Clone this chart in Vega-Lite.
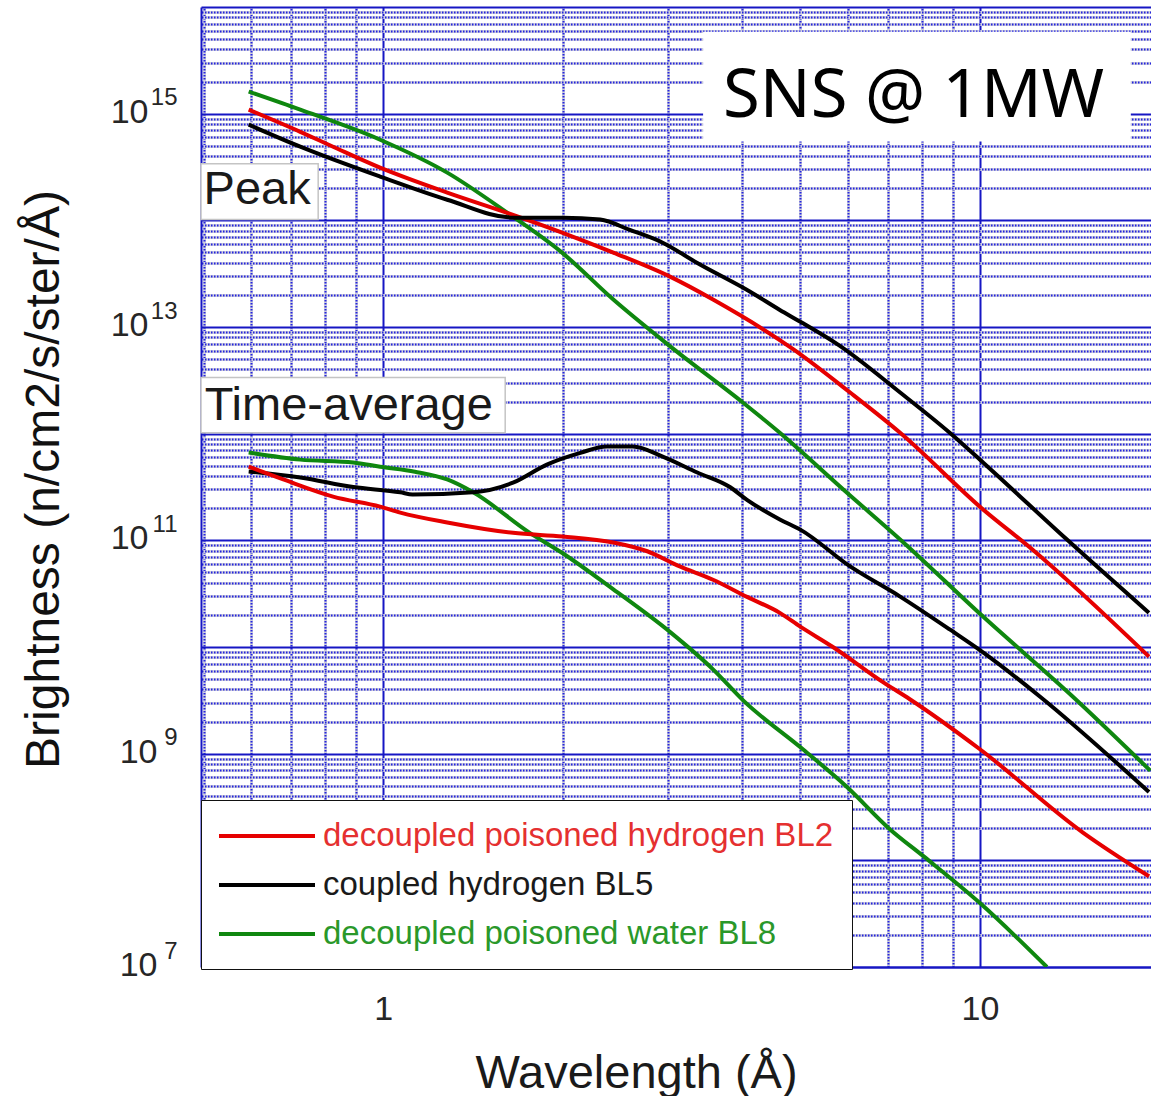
{
  "$schema": "https://vega.github.io/schema/vega-lite/v6.json",
  "width": 950,
  "height": 960,
  "autosize": {"type": "none"},
  "padding": {"left": 201, "top": 7, "right": 0, "bottom": 129},
  "config": {"view": {"stroke": null}, "font": "Liberation Sans"},
  "datasets": {
    "curves": [
      {"beam": "decoupled poisoned water BL8", "mode": "peak", "wl": 0.595, "b": 1.61e15},
      {"beam": "decoupled poisoned water BL8", "mode": "peak", "wl": 0.726, "b": 1.09e15},
      {"beam": "decoupled poisoned water BL8", "mode": "peak", "wl": 0.988, "b": 5.7e14},
      {"beam": "decoupled poisoned water BL8", "mode": "peak", "wl": 1.28, "b": 2.8e14},
      {"beam": "decoupled poisoned water BL8", "mode": "peak", "wl": 1.613, "b": 1.18e14},
      {"beam": "decoupled poisoned water BL8", "mode": "peak", "wl": 1.994, "b": 4.98e13},
      {"beam": "decoupled poisoned water BL8", "mode": "peak", "wl": 2.43, "b": 1.81e13},
      {"beam": "decoupled poisoned water BL8", "mode": "peak", "wl": 3.03, "b": 6.55e12},
      {"beam": "decoupled poisoned water BL8", "mode": "peak", "wl": 4.01, "b": 1.95e12},
      {"beam": "decoupled poisoned water BL8", "mode": "peak", "wl": 4.62, "b": 1.02e12},
      {"beam": "decoupled poisoned water BL8", "mode": "peak", "wl": 5.98, "b": 2.81e11},
      {"beam": "decoupled poisoned water BL8", "mode": "peak", "wl": 7.35, "b": 1.02e11},
      {"beam": "decoupled poisoned water BL8", "mode": "peak", "wl": 10.12, "b": 1.93e10},
      {"beam": "decoupled poisoned water BL8", "mode": "peak", "wl": 14.3, "b": 3.44e9},
      {"beam": "decoupled poisoned water BL8", "mode": "peak", "wl": 19.3, "b": 6.92e8},

      {"beam": "decoupled poisoned hydrogen BL2", "mode": "peak", "wl": 0.595, "b": 1.09e15},
      {"beam": "decoupled poisoned hydrogen BL2", "mode": "peak", "wl": 0.726, "b": 6.76e14},
      {"beam": "decoupled poisoned hydrogen BL2", "mode": "peak", "wl": 0.824, "b": 4.9e14},
      {"beam": "decoupled poisoned hydrogen BL2", "mode": "peak", "wl": 0.988, "b": 3.12e14},
      {"beam": "decoupled poisoned hydrogen BL2", "mode": "peak", "wl": 1.28, "b": 1.82e14},
      {"beam": "decoupled poisoned hydrogen BL2", "mode": "peak", "wl": 1.613, "b": 1.175e14},
      {"beam": "decoupled poisoned hydrogen BL2", "mode": "peak", "wl": 1.994, "b": 7.67e13},
      {"beam": "decoupled poisoned hydrogen BL2", "mode": "peak", "wl": 2.43, "b": 4.98e13},
      {"beam": "decoupled poisoned hydrogen BL2", "mode": "peak", "wl": 3.03, "b": 2.95e13},
      {"beam": "decoupled poisoned hydrogen BL2", "mode": "peak", "wl": 3.57, "b": 1.81e13},
      {"beam": "decoupled poisoned hydrogen BL2", "mode": "peak", "wl": 4.87, "b": 6.17e12},
      {"beam": "decoupled poisoned hydrogen BL2", "mode": "peak", "wl": 6.06, "b": 2.43e12},
      {"beam": "decoupled poisoned hydrogen BL2", "mode": "peak", "wl": 7.35, "b": 1.02e12},
      {"beam": "decoupled poisoned hydrogen BL2", "mode": "peak", "wl": 10.12, "b": 1.95e11},
      {"beam": "decoupled poisoned hydrogen BL2", "mode": "peak", "wl": 12.27, "b": 8.13e10},
      {"beam": "decoupled poisoned hydrogen BL2", "mode": "peak", "wl": 19.2, "b": 8.13e9},

      {"beam": "coupled hydrogen BL5", "mode": "peak", "wl": 0.595, "b": 7.89e14},
      {"beam": "coupled hydrogen BL5", "mode": "peak", "wl": 0.726, "b": 4.9e14},
      {"beam": "coupled hydrogen BL5", "mode": "peak", "wl": 0.988, "b": 2.57e14},
      {"beam": "coupled hydrogen BL5", "mode": "peak", "wl": 1.28, "b": 1.56e14},
      {"beam": "coupled hydrogen BL5", "mode": "peak", "wl": 1.65, "b": 1.06e14},
      {"beam": "coupled hydrogen BL5", "mode": "peak", "wl": 2.0, "b": 1.06e14},
      {"beam": "coupled hydrogen BL5", "mode": "peak", "wl": 2.31, "b": 1.016e14},
      {"beam": "coupled hydrogen BL5", "mode": "peak", "wl": 2.59, "b": 8.13e13},
      {"beam": "coupled hydrogen BL5", "mode": "peak", "wl": 2.94, "b": 6.17e13},
      {"beam": "coupled hydrogen BL5", "mode": "peak", "wl": 3.36, "b": 3.98e13},
      {"beam": "coupled hydrogen BL5", "mode": "peak", "wl": 4.12, "b": 2.14e13},
      {"beam": "coupled hydrogen BL5", "mode": "peak", "wl": 4.62, "b": 1.445e13},
      {"beam": "coupled hydrogen BL5", "mode": "peak", "wl": 5.0, "b": 1.12e13},
      {"beam": "coupled hydrogen BL5", "mode": "peak", "wl": 5.8, "b": 6.76e12},
      {"beam": "coupled hydrogen BL5", "mode": "peak", "wl": 7.35, "b": 2.43e12},
      {"beam": "coupled hydrogen BL5", "mode": "peak", "wl": 8.9, "b": 1.02e12},
      {"beam": "coupled hydrogen BL5", "mode": "peak", "wl": 10.12, "b": 5.37e11},
      {"beam": "coupled hydrogen BL5", "mode": "peak", "wl": 13.99, "b": 1.016e11},
      {"beam": "coupled hydrogen BL5", "mode": "peak", "wl": 19.2, "b": 2.09e10},

      {"beam": "decoupled poisoned water BL8", "mode": "avg", "wl": 0.595, "b": 6.65e11},
      {"beam": "decoupled poisoned water BL8", "mode": "avg", "wl": 0.726, "b": 5.71e11},
      {"beam": "decoupled poisoned water BL8", "mode": "avg", "wl": 0.891, "b": 5.37e11},
      {"beam": "decoupled poisoned water BL8", "mode": "avg", "wl": 0.988, "b": 4.9e11},
      {"beam": "decoupled poisoned water BL8", "mode": "avg", "wl": 1.13, "b": 4.4e11},
      {"beam": "decoupled poisoned water BL8", "mode": "avg", "wl": 1.28, "b": 3.72e11},
      {"beam": "decoupled poisoned water BL8", "mode": "avg", "wl": 1.415, "b": 2.82e11},
      {"beam": "decoupled poisoned water BL8", "mode": "avg", "wl": 1.76, "b": 1.175e11},
      {"beam": "decoupled poisoned water BL8", "mode": "avg", "wl": 1.99, "b": 7.69e10},
      {"beam": "decoupled poisoned water BL8", "mode": "avg", "wl": 2.43, "b": 3.47e10},
      {"beam": "decoupled poisoned water BL8", "mode": "avg", "wl": 3.03, "b": 1.37e10},
      {"beam": "decoupled poisoned water BL8", "mode": "avg", "wl": 3.57, "b": 6.17e9},
      {"beam": "decoupled poisoned water BL8", "mode": "avg", "wl": 4.01, "b": 3.16e9},
      {"beam": "decoupled poisoned water BL8", "mode": "avg", "wl": 5.05, "b": 1.1e9},
      {"beam": "decoupled poisoned water BL8", "mode": "avg", "wl": 5.98, "b": 4.9e8},
      {"beam": "decoupled poisoned water BL8", "mode": "avg", "wl": 7.07, "b": 1.95e8},
      {"beam": "decoupled poisoned water BL8", "mode": "avg", "wl": 8.03, "b": 1.1e8},
      {"beam": "decoupled poisoned water BL8", "mode": "avg", "wl": 10.0, "b": 3.98e7},
      {"beam": "decoupled poisoned water BL8", "mode": "avg", "wl": 12.95, "b": 1.0e7},

      {"beam": "coupled hydrogen BL5", "mode": "avg", "wl": 0.595, "b": 4.42e11},
      {"beam": "coupled hydrogen BL5", "mode": "avg", "wl": 0.726, "b": 3.89e11},
      {"beam": "coupled hydrogen BL5", "mode": "avg", "wl": 0.891, "b": 3.16e11},
      {"beam": "coupled hydrogen BL5", "mode": "avg", "wl": 1.068, "b": 2.82e11},
      {"beam": "coupled hydrogen BL5", "mode": "avg", "wl": 1.12, "b": 2.69e11},
      {"beam": "coupled hydrogen BL5", "mode": "avg", "wl": 1.415, "b": 2.82e11},
      {"beam": "coupled hydrogen BL5", "mode": "avg", "wl": 1.65, "b": 3.47e11},
      {"beam": "coupled hydrogen BL5", "mode": "avg", "wl": 1.88, "b": 5.13e11},
      {"beam": "coupled hydrogen BL5", "mode": "avg", "wl": 2.14, "b": 6.61e11},
      {"beam": "coupled hydrogen BL5", "mode": "avg", "wl": 2.37, "b": 7.59e11},
      {"beam": "coupled hydrogen BL5", "mode": "avg", "wl": 2.62, "b": 7.59e11},
      {"beam": "coupled hydrogen BL5", "mode": "avg", "wl": 2.94, "b": 6.1e11},
      {"beam": "coupled hydrogen BL5", "mode": "avg", "wl": 3.36, "b": 4.32e11},
      {"beam": "coupled hydrogen BL5", "mode": "avg", "wl": 3.81, "b": 3.16e11},
      {"beam": "coupled hydrogen BL5", "mode": "avg", "wl": 4.07, "b": 2.4e11},
      {"beam": "coupled hydrogen BL5", "mode": "avg", "wl": 4.62, "b": 1.57e11},
      {"beam": "coupled hydrogen BL5", "mode": "avg", "wl": 5.0, "b": 1.26e11},
      {"beam": "coupled hydrogen BL5", "mode": "avg", "wl": 6.06, "b": 5.69e10},
      {"beam": "coupled hydrogen BL5", "mode": "avg", "wl": 7.35, "b": 2.97e10},
      {"beam": "coupled hydrogen BL5", "mode": "avg", "wl": 8.9, "b": 1.46e10},
      {"beam": "coupled hydrogen BL5", "mode": "avg", "wl": 10.12, "b": 8.91e9},
      {"beam": "coupled hydrogen BL5", "mode": "avg", "wl": 12.6, "b": 3.44e9},
      {"beam": "coupled hydrogen BL5", "mode": "avg", "wl": 19.2, "b": 4.37e8},

      {"beam": "decoupled poisoned hydrogen BL2", "mode": "avg", "wl": 0.595, "b": 4.9e11},
      {"beam": "decoupled poisoned hydrogen BL2", "mode": "avg", "wl": 0.68, "b": 3.72e11},
      {"beam": "decoupled poisoned hydrogen BL2", "mode": "avg", "wl": 0.824, "b": 2.57e11},
      {"beam": "decoupled poisoned hydrogen BL2", "mode": "avg", "wl": 0.988, "b": 2.07e11},
      {"beam": "decoupled poisoned hydrogen BL2", "mode": "avg", "wl": 1.068, "b": 1.82e11},
      {"beam": "decoupled poisoned hydrogen BL2", "mode": "avg", "wl": 1.28, "b": 1.47e11},
      {"beam": "decoupled poisoned hydrogen BL2", "mode": "avg", "wl": 1.65, "b": 1.175e11},
      {"beam": "decoupled poisoned hydrogen BL2", "mode": "avg", "wl": 2.0, "b": 1.086e11},
      {"beam": "decoupled poisoned hydrogen BL2", "mode": "avg", "wl": 2.43, "b": 9.55e10},
      {"beam": "decoupled poisoned hydrogen BL2", "mode": "avg", "wl": 2.77, "b": 7.9e10},
      {"beam": "decoupled poisoned hydrogen BL2", "mode": "avg", "wl": 3.14, "b": 5.69e10},
      {"beam": "decoupled poisoned hydrogen BL2", "mode": "avg", "wl": 3.57, "b": 4.27e10},
      {"beam": "decoupled poisoned hydrogen BL2", "mode": "avg", "wl": 4.07, "b": 2.95e10},
      {"beam": "decoupled poisoned hydrogen BL2", "mode": "avg", "wl": 4.62, "b": 2.09e10},
      {"beam": "decoupled poisoned hydrogen BL2", "mode": "avg", "wl": 5.0, "b": 1.55e10},
      {"beam": "decoupled poisoned hydrogen BL2", "mode": "avg", "wl": 5.67, "b": 1.0e10},
      {"beam": "decoupled poisoned hydrogen BL2", "mode": "avg", "wl": 6.88, "b": 4.68e9},
      {"beam": "decoupled poisoned hydrogen BL2", "mode": "avg", "wl": 7.63, "b": 3.24e9},
      {"beam": "decoupled poisoned hydrogen BL2", "mode": "avg", "wl": 10.0, "b": 1.1e9},
      {"beam": "decoupled poisoned hydrogen BL2", "mode": "avg", "wl": 14.88, "b": 1.82e8},
      {"beam": "decoupled poisoned hydrogen BL2", "mode": "avg", "wl": 19.2, "b": 7.08e7}
    ],
    "boxes": [
      {"label": "Peak", "x": 0.495, "x2": 0.778, "y": 1.016e14, "y2": 3.4e14},
      {"label": "Time-average", "x": 0.495, "x2": 1.601, "y": 1.02e12, "y2": 3.36e12}
    ],
    "snsbox": [
      {"label": "SNS @ 1MW", "x": 3.436, "x2": 17.9, "y": 5.47e14, "y2": 5.87e15}
    ],
    "notes": [
      {"label": "Peak", "x": 0.5, "y": 1.436e14},
      {"label": "Time-average", "x": 0.502, "y": 1.355e12}
    ],
    "title": [
      {"label": "SNS @ 1MW", "x": 7.74, "y": 9.37e14}
    ]
  },
  "resolve": {"axis": {"x": "independent", "y": "independent"}},
  "layer": [
    {
      "data": {"name": "boxes"},
      "mark": {"type": "rect", "fill": "#ffffff", "stroke": "#c4c4c4", "strokeWidth": 1.5},
      "encoding": {
        "x": {"field": "x", "type": "quantitative",
              "scale": {"type": "log", "domain": [0.495, 19.35], "nice": false},
              "axis": {"orient": "top", "values": [0.5, 0.6, 0.7, 0.8, 0.9, 2, 3, 4, 5, 6, 7, 8, 9],
                       "grid": true, "gridColor": "#cfcfdc", "gridWidth": 3, "gridOpacity": 1,
                       "labels": false, "ticks": false, "domain": false, "title": null}},
        "x2": {"field": "x2"},
        "y": {"field": "y", "type": "quantitative",
              "scale": {"type": "log", "domain": [1e7, 1e16], "nice": false},
              "axis": {"orient": "right",
                       "values": [2e7,3e7,4e7,5e7,6e7,7e7,8e7,9e7,2e8,3e8,4e8,5e8,6e8,7e8,8e8,9e8,2e9,3e9,4e9,5e9,6e9,7e9,8e9,9e9,2e10,3e10,4e10,5e10,6e10,7e10,8e10,9e10,2e11,3e11,4e11,5e11,6e11,7e11,8e11,9e11,2e12,3e12,4e12,5e12,6e12,7e12,8e12,9e12,2e13,3e13,4e13,5e13,6e13,7e13,8e13,9e13,2e14,3e14,4e14,5e14,6e14,7e14,8e14,9e14,2e15,3e15,4e15,5e15,6e15,7e15,8e15,9e15],
                       "grid": true, "gridColor": "#cfcfdc", "gridWidth": 3, "gridOpacity": 1,
                       "labels": false, "ticks": false, "domain": false, "title": null}},
        "y2": {"field": "y2"}
      }
    },
    {
      "data": {"name": "snsbox"},
      "mark": {"type": "rect", "fill": "#ffffff"},
      "encoding": {
        "x": {"field": "x", "type": "quantitative",
              "scale": {"type": "log", "domain": [0.495, 19.35], "nice": false},
              "axis": {"orient": "top", "values": [0.5, 0.6, 0.7, 0.8, 0.9, 2, 3, 4, 5, 6, 7, 8, 9],
                       "grid": true, "gridColor": "#2424e0", "gridWidth": 2, "gridDash": [1.5, 1.5], "gridOpacity": 1,
                       "labels": false, "ticks": false, "domain": false, "title": null}},
        "x2": {"field": "x2"},
        "y": {"field": "y", "type": "quantitative",
              "scale": {"type": "log", "domain": [1e7, 1e16], "nice": false},
              "axis": {"orient": "right",
                       "values": [2e7,3e7,4e7,5e7,6e7,7e7,8e7,9e7,2e8,3e8,4e8,5e8,6e8,7e8,8e8,9e8,2e9,3e9,4e9,5e9,6e9,7e9,8e9,9e9,2e10,3e10,4e10,5e10,6e10,7e10,8e10,9e10,2e11,3e11,4e11,5e11,6e11,7e11,8e11,9e11,2e12,3e12,4e12,5e12,6e12,7e12,8e12,9e12,2e13,3e13,4e13,5e13,6e13,7e13,8e13,9e13,2e14,3e14,4e14,5e14,6e14,7e14,8e14,9e14,2e15,3e15,4e15,5e15,6e15,7e15,8e15,9e15],
                       "grid": true, "gridColor": "#2424e0", "gridWidth": 2, "gridDash": [1.5, 1.5], "gridOpacity": 1,
                       "labels": false, "ticks": false, "domain": false, "title": null}},
        "y2": {"field": "y2"}
      }
    },
    {
      "data": {"name": "curves"},
      "mark": {"type": "line", "strokeWidth": 4, "clip": true, "interpolate": "monotone"},
      "encoding": {
        "x": {"field": "wl", "type": "quantitative",
              "scale": {"type": "log", "domain": [0.495, 19.35], "nice": false},
              "axis": {"orient": "bottom", "values": [1, 10], "format": "d",
                       "grid": true, "gridColor": "#1616c4", "gridWidth": 2, "gridOpacity": 1,
                       "domain": true, "domainColor": "#1616c4", "domainWidth": 2,
                       "ticks": false, "labelFlush": false, "labelOverlap": false,
                       "labelFont": "Liberation Sans", "labelFontSize": 34, "labelColor": "#262626",
                       "labelPadding": 25, "labelBaseline": "top",
                       "title": "Wavelength (Å)", "titleFont": "Liberation Sans", "titleFontSize": 47,
                       "titleFontWeight": "normal", "titleColor": "#1a1a1a",
                       "titleX": 435, "titleY": 120, "titleAlign": "center", "titleBaseline": "alphabetic"}},
        "y": {"field": "b", "type": "quantitative",
              "scale": {"type": "log", "domain": [1e7, 1e16], "nice": false},
              "axis": {"orient": "left", "values": [1e7, 1e8, 1e9, 1e10, 1e11, 1e12, 1e13, 1e14, 1e15, 1e16],
                       "labelExpr": "['', '', '', '', '', '', '', '10', '', '10', '', '10', '', '10', '', '10', ''][round(log(datum.value) / LN10)]",
                       "grid": true, "gridColor": "#1616c4", "gridWidth": 2, "gridOpacity": 1,
                       "domain": true, "domainColor": "#1616c4", "domainWidth": 2,
                       "ticks": false, "labelFlush": false, "labelOverlap": false,
                       "labelFont": "Liberation Sans", "labelFontSize": 34, "labelColor": "#262626",
                       "labelPadding": {"condition": {"test": "datum.value < 5000000000", "value": 44}, "value": 53},
                       "labelOffset": -1.5,
                       "title": "Brightness (n/cm2/s/ster/Å)", "titleFont": "Liberation Sans", "titleFontSize": 48,
                       "titleFontWeight": "normal", "titleColor": "#111111",
                       "titleAngle": 270, "titleX": -143, "titleY": 472, "titleAlign": "center", "titleBaseline": "alphabetic"}},
        "color": {"field": "beam", "type": "nominal",
                  "scale": {"domain": ["decoupled poisoned hydrogen BL2", "coupled hydrogen BL5", "decoupled poisoned water BL8"],
                            "range": ["#e60000", "#000000", "#0f870f"]},
                  "legend": {"orient": "none", "legendX": 0, "legendY": 793, "title": null, "direction": "vertical",
                             "fillColor": "#ffffff", "strokeColor": "#111111", "padding": 18,
                             "symbolType": "M-3,0H3", "symbolSize": 1024, "symbolStrokeWidth": 4, "symbolOffset": 30,
                             "symbolOpacity": 1,
                             "labelOffset": 38, "labelFont": "Liberation Sans", "labelFontSize": 33, "labelLimit": 1000,
                             "rowPadding": 14,
                             "encode": {"labels": {"update": {"fill": {"signal": "datum.value == 'decoupled poisoned hydrogen BL2' ? '#e53030' : datum.value == 'coupled hydrogen BL5' ? '#1a1a1a' : '#2a982a'"}}}}}},
        "detail": {"field": "mode", "type": "nominal"}
      }
    },
    {
      "data": {"name": "notes"},
      "mark": {"type": "text", "align": "left", "baseline": "alphabetic", "font": "Liberation Sans", "fontSize": 47, "color": "#1a1a1a"},
      "encoding": {
        "x": {"field": "x", "type": "quantitative",
              "scale": {"type": "log", "domain": [0.495, 19.35], "nice": false}, "axis": null},
        "y": {"field": "y", "type": "quantitative",
              "scale": {"type": "log", "domain": [1e7, 1e16], "nice": false},
              "axis": {"orient": "left", "values": [1e7, 1e8, 1e9, 1e10, 1e11, 1e12, 1e13, 1e14, 1e15, 1e16],
                       "labelExpr": "['', '', '', '', '', '', '', '7', '', '9', '', '11', '', '13', '', '15', ''][round(log(datum.value) / LN10)]",
                       "grid": false, "domain": false, "ticks": false, "labelFlush": false, "labelOverlap": false,
                       "labelFont": "Liberation Sans", "labelFontSize": 24, "labelColor": "#262626",
                       "labelPadding": 24, "labelOffset": -16, "title": null}},
        "text": {"field": "label"}
      }
    },
    {
      "data": {"name": "title"},
      "mark": {"type": "text", "align": "center", "baseline": "alphabetic", "font": "Noto Sans", "fontSize": 67, "color": "#000000"},
      "encoding": {
        "x": {"field": "x", "type": "quantitative",
              "scale": {"type": "log", "domain": [0.495, 19.35], "nice": false}, "axis": null},
        "y": {"field": "y", "type": "quantitative",
              "scale": {"type": "log", "domain": [1e7, 1e16], "nice": false}, "axis": null},
        "text": {"field": "label"}
      }
    }
  ]
}
